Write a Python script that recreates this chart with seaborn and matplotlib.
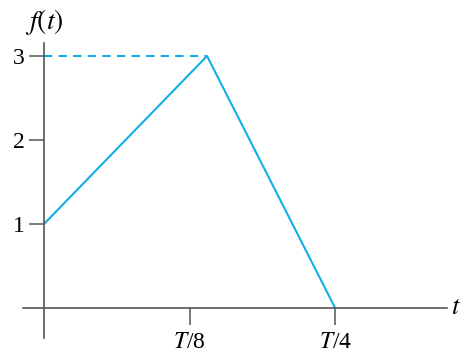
import pandas as pd
import seaborn as sns
import matplotlib.pyplot as plt

# piecewise signal f(t), t in units of T
t_vals = [0.0, 0.14, 0.25]
f_vals = [1, 3, 0]
x_ticks = [0.125, 0.25]
x_labels = [r'$T$/8', r'$T$/4']
y_ticks = [1, 2, 3]
y_labels = ['1', '2', '3']
peak_t = 0.14
peak_f = 3

sns.set_style('white')
plt.rcParams['font.family'] = ['Liberation Serif', 'DejaVu Serif']
plt.rcParams['mathtext.fontset'] = 'stix'
plt.rcParams['text.color'] = 'black'
plt.rcParams['xtick.labelcolor'] = 'black'
plt.rcParams['ytick.labelcolor'] = 'black'

df = pd.DataFrame({'t': t_vals, 'f': f_vals})
line_color = '#12aee8'
axis_color = '#555555'

fig = plt.figure(figsize=(4.62, 3.53), dpi=100)
ax = fig.add_axes([0.0498, 0.0425, 0.9177, 0.8357])

sns.lineplot(data=df, x='t', y='f', ax=ax, color=line_color, linewidth=1.5)
ax.plot([0, peak_t], [peak_f, peak_f], color=line_color, linewidth=1.5,
        linestyle=(0, (4, 3)))

ax.set_xlim(-0.018, 0.346)
ax.set_ylim(-0.357, 3.155)

for side in ['top', 'right']:
    ax.spines[side].set_visible(False)
ax.spines['left'].set_position(('data', 0))
ax.spines['bottom'].set_position(('data', 0))
for side in ['left', 'bottom']:
    ax.spines[side].set_color(axis_color)
    ax.spines[side].set_linewidth(1.2)

ax.set_xticks(x_ticks)
ax.set_xticklabels(x_labels)
ax.set_yticks(y_ticks)
ax.set_yticklabels(y_labels)
ax.tick_params(axis='x', direction='out', length=12, width=1.1, color=axis_color,
               pad=5, labelsize=17, bottom=True, labelcolor='black')
ax.tick_params(axis='y', direction='out', length=11, width=1.1, color=axis_color,
               pad=3, labelsize=17, left=True, labelcolor='black')
ax.set_xlabel('')
ax.set_ylabel('')

ax.text(0, 1.02, r'$f(t)$', transform=ax.get_xaxis_transform(),
        ha='center', va='bottom', fontsize=20, color='black')
ax.text(1.01, 0, r'$t$', transform=ax.get_yaxis_transform(),
        ha='left', va='center', fontsize=19, color='black')

plt.savefig('out.png', dpi=100)
